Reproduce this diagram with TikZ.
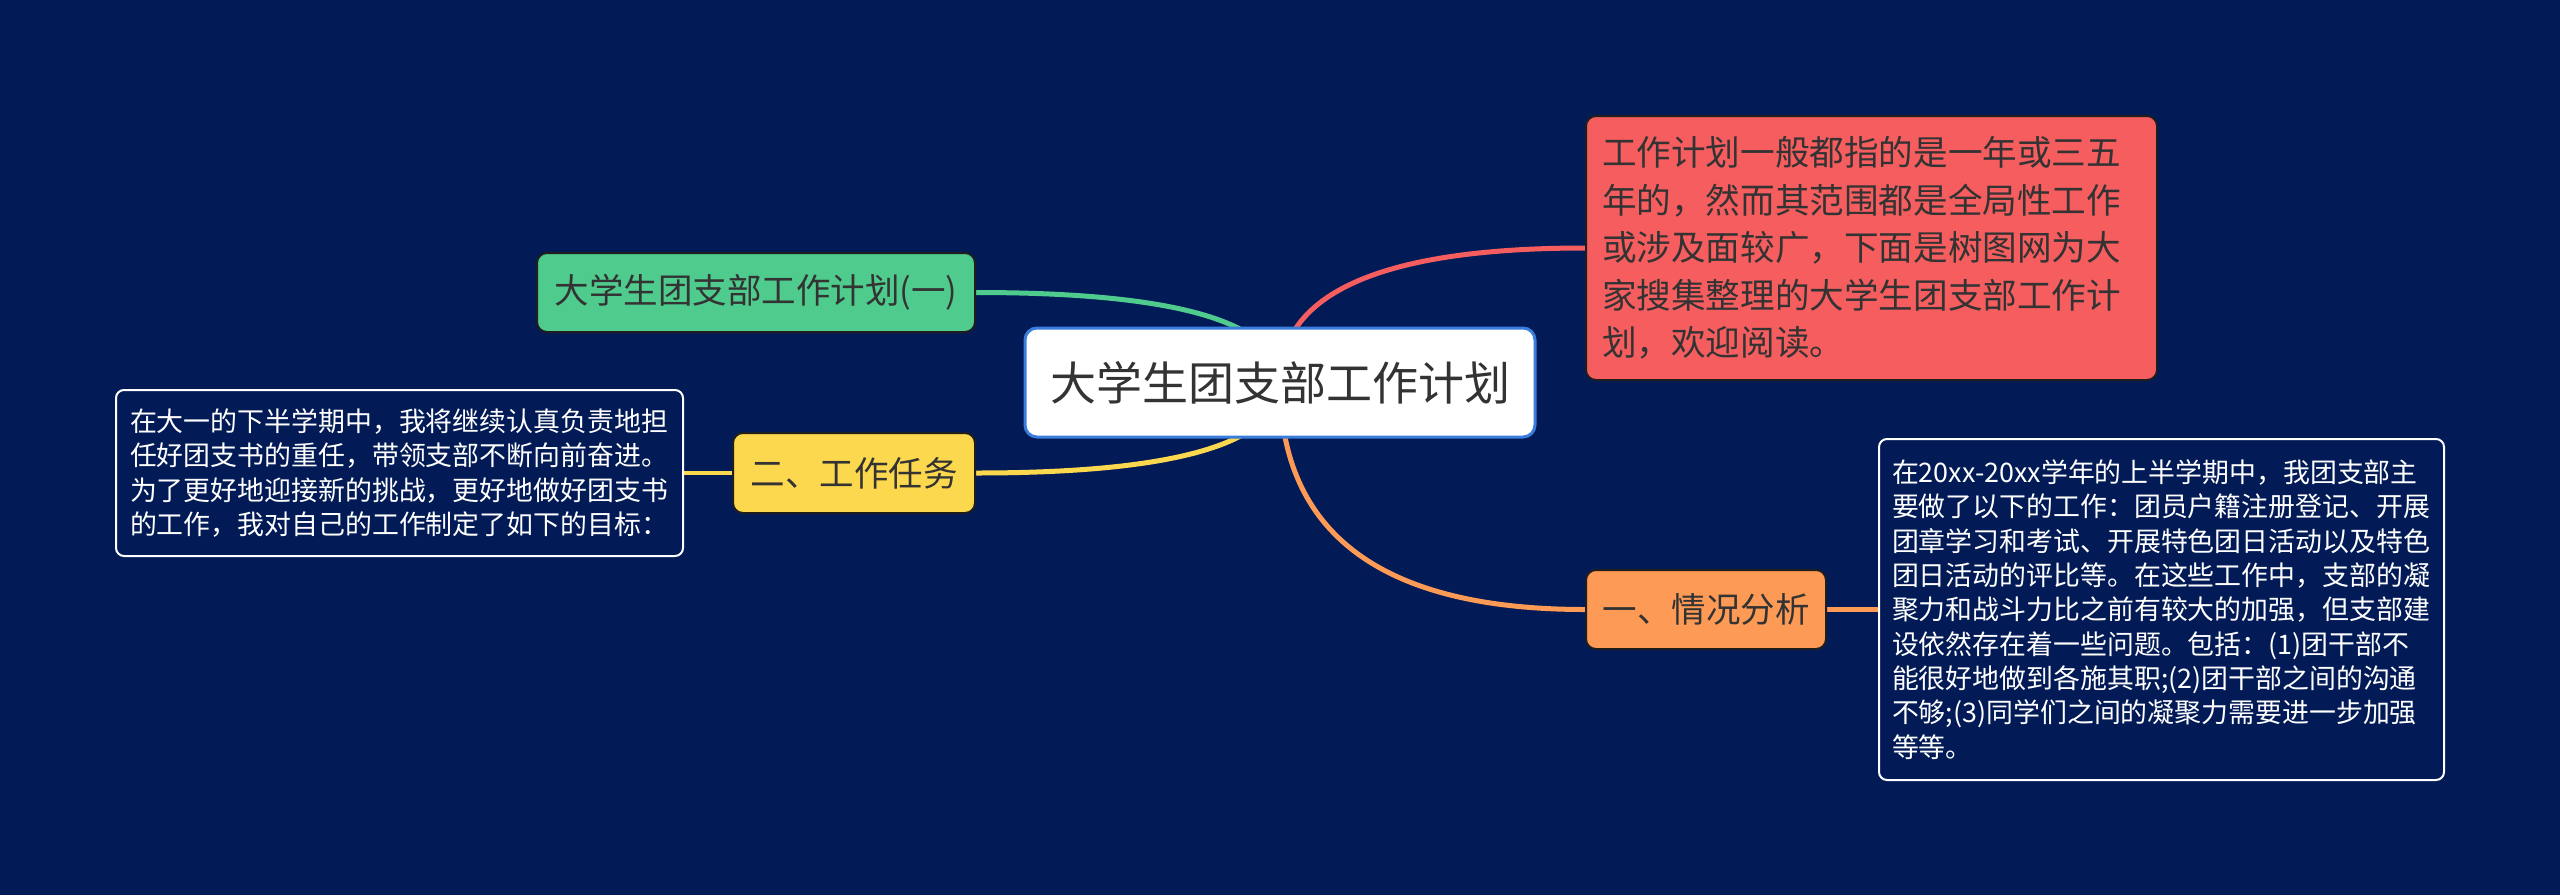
\documentclass[tikz,border=0pt]{standalone}
\usepackage{fontspec}
\setmainfont{Noto Sans CJK SC}
\usetikzlibrary{calc}
\definecolor{bgc}{HTML}{021B57}
\definecolor{redc}{HTML}{F55D5F}
\definecolor{greenc}{HTML}{4ECB8D}
\definecolor{yellowc}{HTML}{FCD84E}
\definecolor{orangec}{HTML}{FD9A55}
\definecolor{rootborder}{HTML}{3B7DDD}
\definecolor{darktext}{HTML}{333333}
\definecolor{nodeborder}{HTML}{1E1E1E}
\pgfdeclarelayer{bg}
\pgfdeclarelayer{edges}
\pgfsetlayers{bg,edges,main}
\begin{document}
\begin{tikzpicture}[x=0.5pt,y=-0.5pt,
  rootbox/.style={draw=rootborder, line width=1.5pt, fill=white, rounded corners=6pt,
    text=darktext, inner sep=0pt, minimum width=255pt, minimum height=54.5pt,
    font=\fontsize{23}{28}\selectfont},
  colbox/.style={draw=nodeborder, line width=1pt, rounded corners=5pt, text=darktext,
    inner sep=0pt, font=\fontsize{17.25}{22}\selectfont},
  tbox/.style={draw=white, line width=1pt, rounded corners=4pt, fill=bgc, text=white,
    align=left, inner ysep=0pt, font=\fontsize{13.45}{17.15}\selectfont},
  conn/.style={line width=2.5pt, line cap=round},
  link/.style={line width=2.2pt}
]
\begin{pgfonlayer}{bg}
\fill[bgc] (0,0) rectangle (2560,895);
\end{pgfonlayer}
\useasboundingbox (0,0) rectangle (2560,895);

\node[rootbox] (root) at (1280,382.5) {大学生团支部工作计划};

\node[colbox, fill=redc, align=left, text width=269.5pt, inner xsep=8pt,
  minimum height=132pt, font=\fontsize{17.3}{23.75}\selectfont] (intro) at (1871.5,248)
  {工作计划一般都指的是一年或三五\\年的，然而其范围都是全局性工作\\或涉及面较广，下面是树图网为大\\家搜集整理的大学生团支部工作计\\划，欢迎阅读。};

\node[colbox, fill=greenc, minimum width=219pt, minimum height=39.5pt] (plan1) at (756,292.5)
  {大学生团支部工作计划(一)};

\node[colbox, fill=yellowc, minimum width=121pt, minimum height=40pt] (task) at (854,473)
  {二、工作任务};

\node[tbox, text width=269.5pt, inner xsep=7pt, minimum height=83pt] (tasktext) at (399.5,473)
  {在大一的下半学期中，我将继续认真负责地担\\任好团支书的重任，带领支部不断向前奋进。\\为了更好地迎接新的挑战，更好地做好团支书\\的工作，我对自己的工作制定了如下的目标：};

\node[colbox, fill=orangec, minimum width=120pt, minimum height=39.5pt] (analysis) at (1706,609.5)
  {一、情况分析};

\node[tbox, text width=269.5pt, inner xsep=6.5pt, minimum height=170.5pt] (analysistext) at (2161.5,609.5)
  {在20xx-20xx学年的上半学期中，我团支部主\\要做了以下的工作：团员户籍注册登记、开展\\团章学习和考试、开展特色团日活动以及特色\\团日活动的评比等。在这些工作中，支部的凝\\聚力和战斗力比之前有较大的加强，但支部建\\设依然存在着一些问题。包括：(1)团干部不\\能很好地做到各施其职;(2)团干部之间的沟通\\不够;(3)同学们之间的凝聚力需要进一步加强\\等等。};

\coordinate (cI) at (root.center |- intro.west);
\coordinate (cP) at (root.center |- plan1.east);
\coordinate (cT) at (root.center |- task.east);
\coordinate (cA) at (root.center |- analysis.west);

\begin{pgfonlayer}{edges}
\draw[conn, redc] (root.center) .. controls ($(root.center)!2/3!(cI)$) and ($(intro.west)!2/3!(cI)$) .. (intro.west);
\draw[conn, greenc] (root.center) .. controls ($(root.center)!2/3!(cP)$) and ($(plan1.east)!2/3!(cP)$) .. (plan1.east);
\draw[conn, yellowc] (root.center) .. controls ($(root.center)!2/3!(cT)$) and ($(task.east)!2/3!(cT)$) .. (task.east);
\draw[conn, orangec] (root.center) .. controls ($(root.center)!2/3!(cA)$) and ($(analysis.west)!2/3!(cA)$) .. (analysis.west);
\draw[link, yellowc] (task.west) -- (tasktext.east);
\draw[link, orangec] (analysis.east) -- (analysistext.west);
\end{pgfonlayer}
\end{tikzpicture}
\end{document}
